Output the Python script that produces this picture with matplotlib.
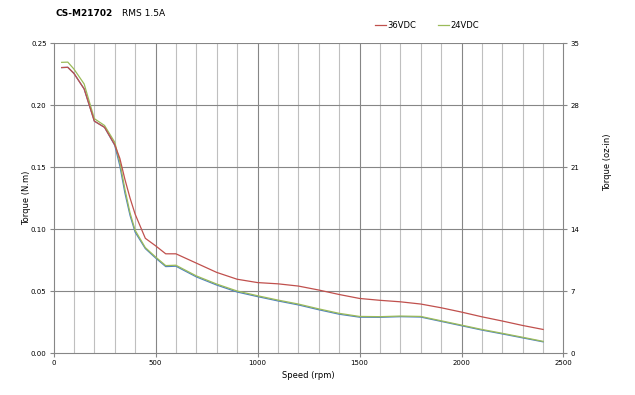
"""Torque vs speed curve for CS-M21702 at RMS 1.5A"""
import matplotlib
matplotlib.use('Agg')
import matplotlib.pyplot as plt
from matplotlib.lines import Line2D

# speed points (rpm)
speed = [40, 70, 100, 150, 200, 250, 300, 325, 350, 375, 400, 450, 500, 550, 600,
         700, 800, 900, 1000, 1100, 1200, 1300, 1400, 1500, 1600, 1700, 1800,
         1900, 2000, 2100, 2200, 2300, 2400]

# torque (N.m)
torque_36v = [0.2302, 0.2304, 0.2255, 0.2130, 0.1870, 0.1820, 0.1680, 0.1570, 0.1400,
              0.1250, 0.1120, 0.0925, 0.0865, 0.0800, 0.0800,
              0.0725, 0.0650, 0.0595, 0.0568, 0.0558, 0.0540, 0.0508, 0.0472, 0.0440,
              0.0425, 0.0413, 0.0395, 0.0365, 0.0330, 0.0292, 0.0258, 0.0222, 0.0190]
torque_24v = [0.2344, 0.2346, 0.2290, 0.2170, 0.1890, 0.1835, 0.1700, 0.1540, 0.1320,
              0.1130, 0.0990, 0.0850, 0.0775, 0.0705, 0.0708,
              0.0622, 0.0556, 0.0500, 0.0462, 0.0427, 0.0395, 0.0356, 0.0320, 0.0295,
              0.0293, 0.0298, 0.0295, 0.0260, 0.0225, 0.0190, 0.0159, 0.0127, 0.0094]
torque_blue = [0.2302, 0.2304, 0.2255, 0.2130, 0.1870, 0.1820, 0.1675, 0.1510, 0.1290,
               0.1110, 0.0975, 0.0842, 0.0767, 0.0697, 0.0700,
               0.0614, 0.0548, 0.0492, 0.0455, 0.0420, 0.0388, 0.0349, 0.0313, 0.0289,
               0.0288, 0.0293, 0.0290, 0.0255, 0.0220, 0.0185, 0.0154, 0.0122, 0.0090]

left_ticks = [0.00, 0.05, 0.10, 0.15, 0.20, 0.25]
right_ticks = [0, 7, 14, 21, 28, 35]
x_ticks = [0, 500, 1000, 1500, 2000, 2500]

red = '#C0504D'
green = '#9BBB59'
blue = '#4F81BD'
major_grey = '#868686'
minor_grey = '#BFBFBF'

fig = plt.figure(figsize=(6.35, 3.95), dpi=100)
ax = fig.add_axes([0.0843, 0.1063, 0.8031, 0.7848])

# grid
for x in range(100, 2500, 100):
    ax.axvline(x, color=major_grey if x % 500 == 0 else minor_grey, linewidth=0.8, zorder=0)
for y in left_ticks[1:]:
    ax.axhline(y, color=major_grey, linewidth=0.8, zorder=0)

ax.plot(speed, torque_blue, color=blue, linewidth=0.9, zorder=2)
ax.plot(speed, torque_36v, color=red, linewidth=0.9, zorder=3)
ax.plot(speed, torque_24v, color=green, linewidth=0.9, zorder=2.5)

ax.set_xlim(0, 2500)
ax.set_ylim(0, 0.25)
ax.set_xticks(x_ticks)
ax.set_xticklabels([str(v) for v in x_ticks])
ax.set_yticks(left_ticks)
ax.set_yticklabels(['%.2f' % v for v in left_ticks])
ax.tick_params(labelsize=5, length=3, width=0.8, color=major_grey, pad=2)

for side in ['top', 'right']:
    ax.spines[side].set_visible(False)
for side in ['left', 'bottom']:
    ax.spines[side].set_color(major_grey)
    ax.spines[side].set_linewidth(0.8)

ax2 = ax.twinx()
ax2.set_ylim(0, 35)
ax2.set_yticks(right_ticks)
ax2.set_yticklabels([str(v) for v in right_ticks])
ax2.tick_params(labelsize=5, length=3, width=0.8, color=major_grey, pad=2)
for side in ['top', 'left', 'bottom']:
    ax2.spines[side].set_visible(False)
ax2.spines['right'].set_color(major_grey)
ax2.spines['right'].set_linewidth(0.8)

# labels
fig.text(27 / 635, 1 - 198 / 395, 'Torque (N.m)', rotation=90, fontsize=6,
         ha='center', va='center')
fig.text(608 / 635, 1 - 162 / 395, 'Torque (oz-in)', rotation=90, fontsize=6,
         ha='center', va='center')
fig.text(308 / 635, 1 - 375 / 395, 'Speed (rpm)', fontsize=6, ha='center', va='center')
fig.text(55 / 635, 1 - 14 / 395, 'CS-M21702', fontsize=6.5, fontweight='bold', va='center')
fig.text(122 / 635, 1 - 14 / 395, 'RMS 1.5A', fontsize=6.5, va='center')

handles = [Line2D([], [], color=red, linewidth=0.9),
           Line2D([], [], color=green, linewidth=0.9)]
fig.legend(handles, ['36VDC', '24VDC'], loc='center', ncol=2, frameon=False,
           bbox_to_anchor=(427 / 635, 1 - 25 / 395), fontsize=6,
           handlelength=1.3, handletextpad=0.15, columnspacing=2.6)

fig.savefig('out.png', dpi=100)
